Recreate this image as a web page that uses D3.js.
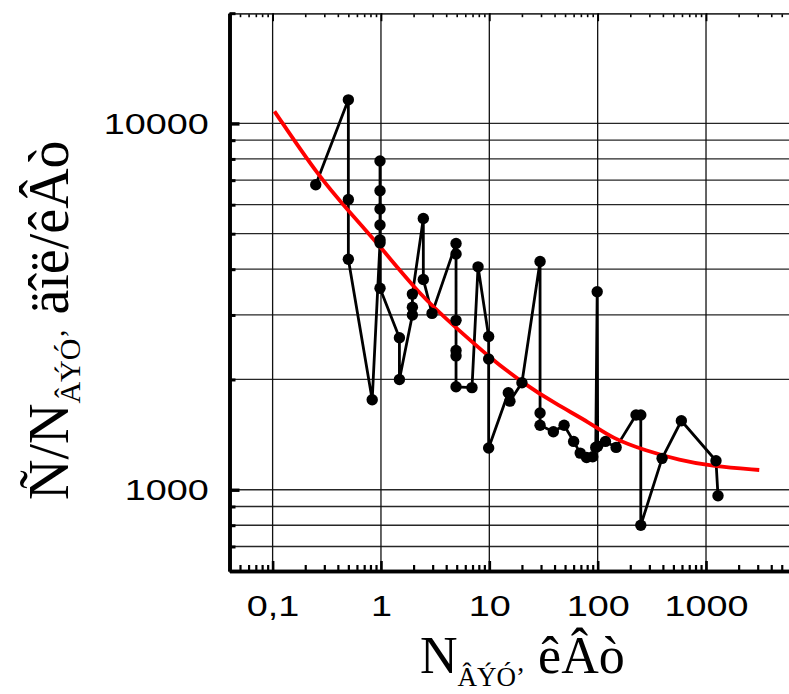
<!DOCTYPE html>
<html>
<head>
<meta charset="utf-8">
<script src="https://cdn.jsdelivr.net/npm/d3@7"></script>
<style>
  body { margin: 0; background: #fff; }
  svg { display: block; }
</style>
</head>
<body>
<svg id="chart" width="789" height="694"></svg>
<script>
// Measured points, in drawing order (power, kW -> specific cost)
const pointX = [0.25, 0.5, 0.5, 0.5, 0.83, 0.98, 0.98, 0.98, 0.98, 0.98, 0.98, 0.98,
  1.48, 1.48, 1.95, 1.95, 1.95, 2.46, 2.46, 2.96, 4.93, 4.93, 4.93, 4.93, 4.93, 4.93,
  6.92, 7.87, 9.86, 9.86, 9.86, 14.97, 15.5, 20, 29.4, 29.4, 29.4, 39, 49, 60, 69, 79,
  90, 96, 99, 100, 118, 148, 226, 250, 250, 393, 592, 1236, 1290];
const pointY = [6800, 11600, 6200, 4260, 1760, 4720, 4810, 5280, 5840, 6550, 7900, 3550,
  2600, 2000, 3000, 3150, 3420, 5500, 3750, 3030, 4700, 4400, 2900, 2400, 2320, 1910,
  1900, 4060, 2620, 2275, 1300, 1840, 1745, 1960, 4200, 1620, 1500, 1440, 1500, 1355, 1259, 1225,
  1230, 1305, 3470, 1315, 1355, 1305, 1600, 1600, 800, 1218, 1543, 1200, 963];

// Trend curve
const fitX = [0.104, 0.27, 0.5, 1, 2.4, 4.9, 10, 20, 41, 84, 137, 279, 567, 1150, 3100];
const fitY = [10790, 7120, 5780, 4590, 3350, 2775, 2300, 1963, 1714, 1527, 1380, 1278, 1205, 1158, 1132];

// Axis labels
const xTickValues = [0.1, 1, 10, 100, 1000];
const xTickLabels = ["0,1", "1", "10", "100", "1000"];
const yTickValues = [1000, 10000];
const yTickLabels = ["1000", "10000"];

(function draw() {
  const svg = d3.select("#chart");

  const plotLeft = 229.5, plotBottom = 571, plotTop = 13.2;
  const decadeX = 108.35, decadeY = 366.3;
  const xDomain = [0.04, 10000], yDomain = [600, 20000];

  const x = d3.scaleLog().domain(xDomain)
    .range([plotLeft, plotLeft + decadeX * Math.log10(xDomain[1] / xDomain[0])]);
  const y = d3.scaleLog().domain(yDomain)
    .range([plotBottom, plotBottom - decadeY * Math.log10(yDomain[1] / yDomain[0])]);

  const rightEdge = 800;
  const isDecade = v => Math.abs(Math.log10(v) - Math.round(Math.log10(v))) < 1e-9;
  const xAll = x.ticks();
  const yAll = y.ticks();
  const xMinor = xAll.filter(v => !isDecade(v));
  const xMajor = xAll.filter(isDecade);
  const yMinor = yAll.filter(v => !isDecade(v));
  const yMajor = yAll.filter(isDecade);

  // Grid
  const grid = svg.append("g").attr("stroke-width", 1.3);
  grid.selectAll("line.h").data(yAll.filter(v => v > yDomain[0] && v < yDomain[1])).join("line")
    .attr("class", "h")
    .attr("stroke", "#262626")
    .attr("x1", plotLeft).attr("x2", rightEdge)
    .attr("y1", d => y(d)).attr("y2", d => y(d));
  grid.selectAll("line.v").data(xMajor).join("line")
    .attr("class", "v")
    .attr("stroke", "#111")
    .attr("x1", d => x(d)).attr("x2", d => x(d))
    .attr("y1", plotTop).attr("y2", plotBottom);

  // Axes
  const tickFont = "'Liberation Sans', Arial, sans-serif";
  const stretch = "scale(1.26,1)";

  function styleAxis(g, width, tickWidth, color) {
    g.select(".domain").attr("stroke", color || "#000").attr("stroke-width", width);
    g.selectAll(".tick line").attr("stroke", "#000").attr("stroke-width", tickWidth);
  }

  // top axis (thin)
  const gTop = svg.append("g").attr("transform", `translate(0,${plotTop})`);
  gTop.append("g").call(d3.axisTop(x).tickValues(xMinor).tickSizeInner(-4).tickSizeOuter(0).tickFormat(""))
    .call(g => styleAxis(g, 1.6, 1.6, "#333"));
  gTop.append("g").call(d3.axisTop(x).tickValues(xMajor).tickSizeInner(-8).tickSizeOuter(0).tickFormat(""))
    .call(g => styleAxis(g, 1.6, 1.8, "#333"));

  // bottom axis
  const gBottom = svg.append("g").attr("transform", `translate(0,${plotBottom})`);
  gBottom.append("g").call(d3.axisBottom(x).tickValues(xMinor).tickSizeInner(-6).tickSizeOuter(0).tickFormat(""))
    .call(g => styleAxis(g, 3.4, 2.2));
  gBottom.append("g").call(d3.axisBottom(x).tickValues(xMajor).tickSizeInner(-10).tickSizeOuter(0).tickFormat(""))
    .call(g => styleAxis(g, 3.4, 2.6));
  gBottom.append("g").call(d3.axisBottom(x).tickValues(xTickValues).tickSize(0).tickPadding(24)
      .tickFormat((d, i) => xTickLabels[i]))
    .call(g => g.select(".domain").remove())
    .call(g => g.selectAll("text").attr("font-family", tickFont).attr("font-size", 30)
      .attr("fill", "#000").attr("transform", stretch));

  // left axis
  const gLeft = svg.append("g").attr("transform", `translate(${plotLeft},0)`);
  gLeft.append("g").call(d3.axisLeft(y).tickValues(yMinor).tickSizeInner(-6).tickSizeOuter(0).tickFormat(""))
    .call(g => styleAxis(g, 3.6, 3));
  gLeft.append("g").call(d3.axisLeft(y).tickValues(yMajor).tickSizeInner(-10).tickSizeOuter(0).tickFormat(""))
    .call(g => styleAxis(g, 3.6, 3.4));
  gLeft.append("g").call(d3.axisLeft(y).tickValues(yTickValues).tickSize(0).tickPadding(16.5)
      .tickFormat((d, i) => yTickLabels[i]))
    .call(g => g.select(".domain").remove())
    .call(g => g.selectAll("text").attr("font-family", tickFont).attr("font-size", 30)
      .attr("fill", "#000").attr("transform", stretch));

  // Data polyline
  const pts = pointX.map((v, i) => [v, pointY[i]]);
  svg.append("path")
    .datum(pts)
    .attr("fill", "none")
    .attr("stroke", "#000")
    .attr("stroke-width", 2.8)
    .attr("stroke-linejoin", "round")
    .attr("d", d3.line().x(d => x(d[0])).y(d => y(d[1])));

  // Trend curve
  const fit = fitX.map((v, i) => [v, fitY[i]]);
  svg.append("path")
    .datum(fit)
    .attr("fill", "none")
    .attr("stroke", "#ff0000")
    .attr("stroke-width", 3.8)
    .attr("d", d3.line().x(d => x(d[0])).y(d => y(d[1])).curve(d3.curveBasis));

  // Markers
  svg.append("g").selectAll("circle").data(pts).join("circle")
    .attr("cx", d => x(d[0])).attr("cy", d => y(d[1])).attr("r", 5.7).attr("fill", "#000");

  // Axis titles
  const titleFont = "'Liberation Serif', 'Times New Roman', serif";
  const xt = svg.append("text")
    .attr("transform", "translate(420,673)")
    .attr("font-family", titleFont).attr("font-size", 52).attr("fill", "#000");
  xt.append("tspan").text("N");
  xt.append("tspan").attr("font-size", 27).attr("dy", 13).text("ÂÝÓ’");
  xt.append("tspan").attr("dy", -13).text(" êÂò");

  const yt = svg.append("text")
    .attr("transform", "translate(68,500) rotate(-90)")
    .attr("font-family", titleFont).attr("font-size", 56).attr("fill", "#000");
  yt.append("tspan").text("Ñ/N");
  yt.append("tspan").attr("font-size", 30).attr("dy", 12).text("ÂÝÓ’");
  yt.append("tspan").attr("dy", -12).text(" äîë/êÂò");
})();
</script>
</body>
</html>
